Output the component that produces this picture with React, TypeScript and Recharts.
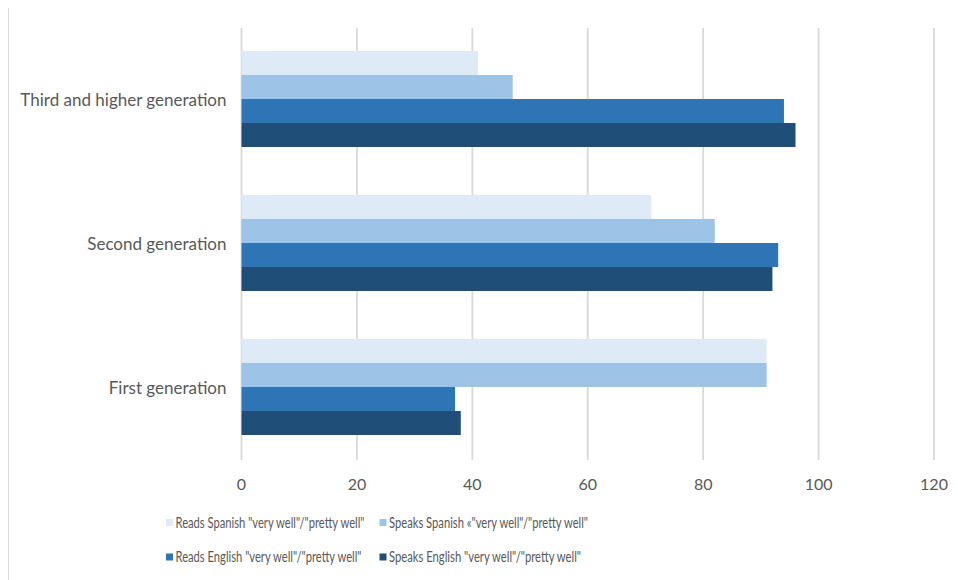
import React from "react";
import { BarChart, Bar, XAxis, YAxis, CartesianGrid, Legend } from "recharts";

const categories = ["Third and higher generation", "Second generation", "First generation"];
const readsSpanish = [41, 71, 91];
const speaksSpanish = [47, 82, 91];
const readsEnglish = [94, 93, 37];
const speaksEnglish = [96, 92, 38];
const seriesNames = [
  'Reads Spanish "very well"/"pretty well"',
  'Speaks Spanish «"very well"/"pretty well"',
  'Reads English "very well"/"pretty well"',
  'Speaks English "very well"/"pretty well"',
];
const seriesKeys = ["rs", "ss", "re", "se"];
const seriesColors = ["#DEEBF7", "#9DC3E6", "#2E75B6", "#1F4E79"];
const xTicks = [0, 20, 40, 60, 80, 100, 120];

const data = categories.map((c, i) => ({
  name: c,
  rs: readsSpanish[i],
  ss: speaksSpanish[i],
  re: readsEnglish[i],
  se: speaksEnglish[i],
}));

const FONT = 'Lato, "Open Sans", sans-serif';
const TEXT = "#595959";

const legendPos = [
  { x: 158, y: 14.5, w: 189 },
  { x: 371.5, y: 14.5, w: 199 },
  { x: 158, y: 49, w: 186 },
  { x: 371.5, y: 49, w: 192 },
];

const LegendContent = (props: any) => {
  const payload = props.payload || [];
  return (
    <svg width={950} height={70} style={{ display: "block" }}>
      {payload.map((p: any, i: number) => {
        const idx = seriesNames.indexOf(p.value);
        const pos = legendPos[idx >= 0 ? idx : i];
        return (
          <g key={i}>
            <rect x={pos.x} y={pos.y - 3.5} width={7} height={7} fill={p.color} />
            <text
              x={pos.x + 9.5}
              y={pos.y}
              dy="0.35em"
              fontFamily={FONT}
              fontSize={14.5}
              fill={TEXT}
              textLength={pos.w}
              lengthAdjust="spacingAndGlyphs"
            >
              {p.value}
            </text>
          </g>
        );
      })}
    </svg>
  );
};

export default function App() {
  return (
    <div style={{ position: "relative", width: 950, height: 572 }}>
      <div
        style={{
          position: "absolute",
          left: 0,
          top: -1,
          width: 960,
          height: 600,
          borderTop: "1px solid #d9d9d9",
          borderLeft: "1px solid #d9d9d9",
          pointerEvents: "none",
        }}
      />
      <BarChart
        width={950}
        height={572}
        data={data}
        layout="vertical"
        margin={{ top: 20, right: 24, bottom: 105, left: 0 }}
        barCategoryGap="16%"
        barGap={0}
      >
        <CartesianGrid horizontal={false} vertical={true} stroke="#d9d9d9" strokeWidth={1.8} />
        <XAxis
          type="number"
          domain={[0, 120]}
          ticks={xTicks}
          axisLine={false}
          tickLine={false}
          tickSize={0}
          tickMargin={19}
          height={15}
          tick={{ fill: TEXT, fontSize: 16, fontFamily: FONT }}
        />
        <YAxis
          type="category"
          dataKey="name"
          width={233.5}
          axisLine={false}
          tickLine={false}
          tickSize={0}
          tickMargin={15}
          tick={{ fill: TEXT, fontSize: 17, fontFamily: FONT }}
        />
        <Legend
          content={<LegendContent />}
          layout="horizontal"
          verticalAlign="middle"
          align="center"
          wrapperStyle={{ left: 0, top: 500, width: 950, height: 70 }}
        />
        {seriesKeys.map((k, i) => (
          <Bar key={k} dataKey={k} name={seriesNames[i]} fill={seriesColors[i]} isAnimationActive={false} />
        ))}
      </BarChart>
    </div>
  );
}
